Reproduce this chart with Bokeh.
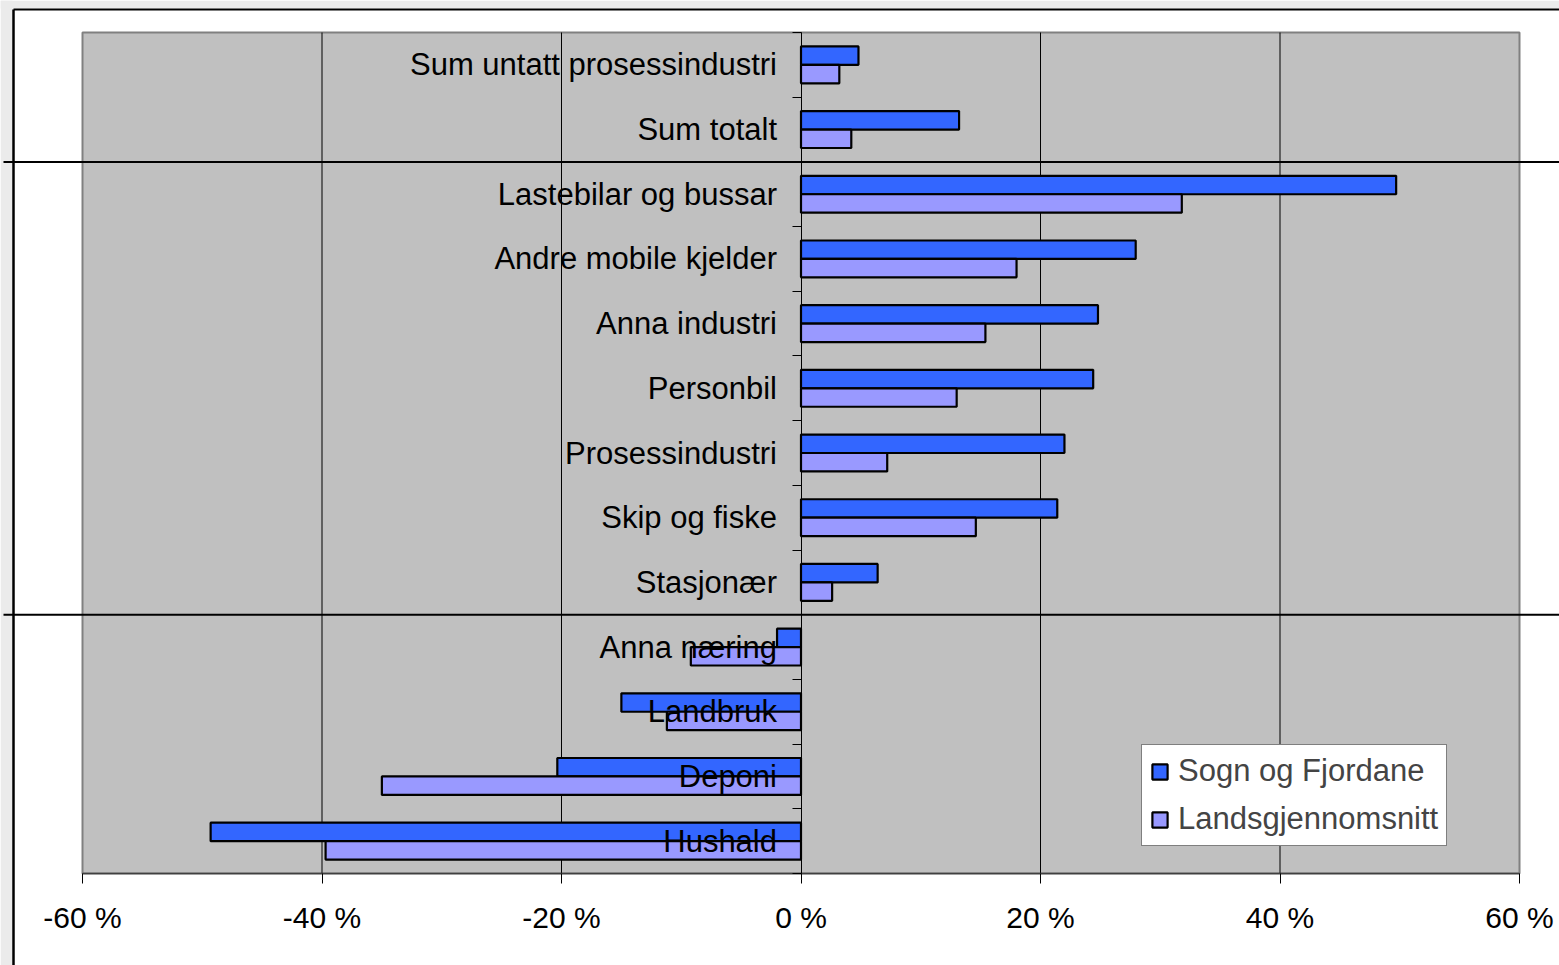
from bokeh.plotting import figure
from bokeh.models import FixedTicker, Range1d, Legend, LegendItem, ColumnDataSource
from bokeh.embed import file_html
from bokeh.resources import INLINE

# ---------------- data ----------------
categories = [
    "Sum untatt prosessindustri", "Sum totalt", "Lastebilar og bussar",
    "Andre mobile kjelder", "Anna industri", "Personbil", "Prosessindustri",
    "Skip og fiske", "Stasjonær", "Anna næring", "Landbruk", "Deponi", "Hushald",
]
sogn = [4.8, 13.2, 49.7, 27.95, 24.8, 24.4, 22.0, 21.4, 6.4, -2.0, -15.0, -20.35, -49.3]
lands = [3.2, 4.2, 31.8, 18.0, 15.4, 13.0, 7.2, 14.6, 2.6, -9.2, -11.2, -35.0, -39.7]
series_names = ["Sogn og Fjordane", "Landsgjennomsnitt"]
xticks = [-60, -40, -20, 0, 20, 40, 60]
xtick_labels = ["-60 %", "-40 %", "-20 %", "0 %", "20 %", "40 %", "60 %"]
separator_after = ["Sum totalt", "Stasjonær"]

# ---------------- geometry ----------------
W, H = 1559, 965
px_x = 1437 / 120.0
px_y = 841 / 13.0
x_start = -60 - 82 / px_x
x_end = x_start + W / px_x
y_end = -0.5 + 873 / px_y
y_start = y_end - H / px_y

n = len(categories)
ypos = [n - 1 - i for i in range(n)]
bar_h = 0.285

FONT = "Liberation Sans"

p = figure(width=W, height=H, output_backend="svg", toolbar_location=None,
           x_range=Range1d(x_start, x_end), y_range=Range1d(y_start, y_end),
           min_border=0)
p.min_border_left = 0
p.min_border_right = 0
p.min_border_top = 0
p.min_border_bottom = 0
p.outline_line_color = None
p.background_fill_color = "white"
p.border_fill_color = "white"
p.xgrid.visible = False
p.ygrid.visible = False

# light strips outside the outer frame (left and top)
p.quad(left=[x_start], right=[x_start + 12 / px_x], bottom=[y_start], top=[y_end],
       fill_color="#ebebeb", line_color=None)
p.quad(left=[x_start], right=[x_end], bottom=[y_end - 8 / px_y], top=[y_end],
       fill_color="#ebebeb", line_color=None)

# plot area
p.quad(left=[xticks[0]], right=[xticks[-1]], bottom=[-0.5], top=[n - 0.5],
       fill_color="#C0C0C0", line_color="#808080", line_width=2)

# vertical gridlines
gx = [t for t in xticks if t not in (xticks[0], xticks[-1], 0)]
p.segment(x0=gx, x1=gx, y0=[-0.5] * len(gx), y1=[n - 0.5] * len(gx),
          line_color="black", line_width=1)

# bars
src = ColumnDataSource(dict(y=ypos, sogn=sogn, lands=lands,
                            y1=[v + bar_h / 2 for v in ypos],
                            y2=[v - bar_h / 2 for v in ypos]))
r1 = p.hbar(y="y1", left=0, right="sogn", height=bar_h, source=src,
            fill_color="#3366FF", line_color="black", line_width=2.2)
r2 = p.hbar(y="y2", left=0, right="lands", height=bar_h, source=src,
            fill_color="#9999FF", line_color="black", line_width=2.2)

# horizontal separators
sep_y = [n - 1 - categories.index(c) - 0.5 for c in separator_after]
sx0 = x_start + 3 / px_x
p.segment(x0=[sx0] * len(sep_y), x1=[x_end] * len(sep_y), y0=sep_y, y1=sep_y,
          line_color="black", line_width=2)

# outer frame lines (left and top)
lx = x_start + 13 / px_x
ty = y_end - 9 / px_y
p.segment(x0=[lx], x1=[lx], y0=[y_start], y1=[ty], line_color="black", line_width=2.5)
p.segment(x0=[lx], x1=[x_end], y0=[ty], y1=[ty], line_color="black", line_width=2)

# x axis
xa = p.xaxis[0]
xa.fixed_location = -0.5
xa.bounds = (xticks[0], xticks[-1])
xa.ticker = FixedTicker(ticks=xticks)
xa.major_label_overrides = {t: l for t, l in zip(xticks, xtick_labels)}
xa.major_tick_out = 10
xa.major_tick_in = 0
xa.minor_tick_out = 0
xa.minor_tick_in = 0
xa.major_tick_line_color = "black"
xa.axis_line_color = "#404040"
xa.axis_line_width = 1.5
xa.major_label_text_font = FONT
xa.major_label_text_font_size = "30px"
xa.major_label_text_color = "black"
xa.major_label_standoff = 17

# y axis (category labels next to zero)
ya = p.yaxis[0]
ya.fixed_location = 0
ya.bounds = (-0.5, n - 0.5)
ya.ticker = FixedTicker(ticks=ypos, minor_ticks=[i - 0.5 for i in range(n + 1)])
ya.major_label_overrides = {y: c for y, c in zip(ypos, categories)}
ya.major_tick_out = 0
ya.major_tick_in = 0
ya.major_tick_line_color = None
ya.minor_tick_out = 9
ya.minor_tick_in = 0
ya.minor_tick_line_color = "black"
ya.axis_line_color = "black"
ya.axis_line_width = 1
ya.major_label_text_font = FONT
ya.major_label_text_font_size = "31px"
ya.major_label_text_color = "black"
ya.major_label_standoff = 15

legend = Legend(items=[LegendItem(label=series_names[0], renderers=[r1]),
                       LegendItem(label=series_names[1], renderers=[r2])],
                location=(1141, 119), margin=0, padding=8, spacing=12,
                glyph_width=19, glyph_height=19, label_standoff=9, label_height=34,
                label_text_font=FONT, label_text_font_size="31px",
                border_line_color="black", border_line_width=1,
                background_fill_color="white", background_fill_alpha=1.0)
p.add_layout(legend)

open("out.html", "w").write(file_html(p, INLINE))
